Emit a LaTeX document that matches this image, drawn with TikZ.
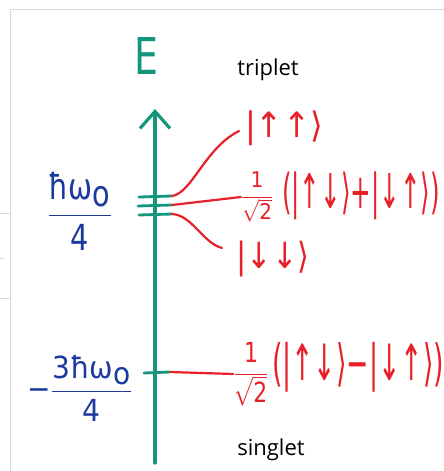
\documentclass[tikz,border=0pt]{standalone}
\usepackage{fontspec}
\setsansfont{Open Sans}
\newfontfamily\hand{DejaVu Sans}
\usetikzlibrary{arrows.meta}
\definecolor{teal1}{HTML}{14967E}
\definecolor{blue1}{HTML}{1B3A9E}
\definecolor{red1}{HTML}{E8202A}
\definecolor{frame1}{HTML}{D8D8D8}
\newcommand{\hn}[1]{\mbox{\hand #1}}
\newcommand{\myfrac}[2]{{\displaystyle\frac{#1}{#2}}}
\tikzset{
  axisline/.style={teal1, line width=3.2pt, line cap=round},
  levelline/.style={teal1, line width=2.8pt, line cap=round},
  link/.style={red1, line width=2.2pt, line cap=round},
  redtext/.style={red1, inner sep=0pt, font=\hand\fontsize{24}{28}\selectfont},
  bluetext/.style={blue1, inner sep=0pt, font=\hand\fontsize{24}{28}\selectfont},
  word/.style={black, inner sep=0pt, font=\sffamily\fontsize{22}{26}\selectfont},
  framestyle/.style={frame1, line width=1pt}
}
\begin{document}
\begin{tikzpicture}[x=1pt,y=-1pt]
\useasboundingbox (0,0) rectangle (444,471);
\fill[white] (0,0) rectangle (444,471);
% screenshot frame
\draw[framestyle] (10,471) -- (10,9) -- (444,9);
\draw[framestyle] (0,213) -- (10,213) (0,298) -- (10,298);
\draw[framestyle] (0,258) -- (4,258);
% axis
\coordinate (axbot) at (155,463);
\coordinate (axtop) at (155,109);
\draw[axisline, -{Straight Barb[length=17pt,width=30pt,line width=3.2pt]}] (axbot) -- (axtop);
\node[teal1, inner sep=0pt] (E) at (146,56) {\resizebox*{24pt}{37pt}{\hand E}};
\node[word] (trip) at (268,70) {triplet};
\node[word] (sing) at (271,450) {singlet};
% triplet levels
\coordinate (l1a) at (139,197); \coordinate (l1b) at (172,196);
\coordinate (l2a) at (138,206); \coordinate (l2b) at (172,205);
\coordinate (l3a) at (139,215); \coordinate (l3b) at (172,214);
\draw[levelline] (l1a) -- (l1b);
\draw[levelline] (l2a) -- (l2b);
\draw[levelline] (l3a) -- (l3b);
% singlet level
\coordinate (s1a) at (144,373); \coordinate (s1b) at (170,372);
\draw[levelline] (s1a) -- (s1b);
% state labels
\node[redtext] (uu) at (284,128) {\resizebox*{78pt}{35pt}{|↑↑⟩}};
\node[redtext] (symfrac) at (257,197) {\resizebox*{32pt}{50pt}{$\myfrac{\hn{1}}{\sqrt{\hn{2}}}$}};
\node[redtext] (symket) at (361,196) {\resizebox*{158pt}{48pt}{(|↑↓⟩+|↓↑⟩)}};
\node[redtext] (dd) at (273,259) {\resizebox*{73pt}{36pt}{|↓↓⟩}};
\node[redtext] (antifrac) at (251,374) {\resizebox*{35pt}{64pt}{$\myfrac{\hn{1}}{\sqrt{\hn{2}}}$}};
\node[redtext] (antiket) at (358,367) {\resizebox*{172pt}{50pt}{(|↑↓⟩−|↓↑⟩)}};
% energy labels
\node[bluetext] (etrip) at (80,211) {\resizebox*{65pt}{78pt}{$\myfrac{\hn{ħω}_{\hn{o}}}{\hn{4}}$}};
\node[bluetext] (esing) at (80,388) {\resizebox*{105pt}{66pt}{$\hn{−}\myfrac{\hn{3ħω}_{\hn{o}}}{\hn{4}}$}};
% connectors
\coordinate (uuend) at (239,131);
\coordinate (ddend) at (222,248);
\draw[link] (l1b) .. controls (192,193) and (205,148) .. (uuend);
\draw[link] (l2b) -- (symfrac.west);
\draw[link] (l3b) .. controls (192,215) and (203,243) .. (ddend);
\draw[link] (s1b) -- (antifrac.west);
\end{tikzpicture}
\end{document}
